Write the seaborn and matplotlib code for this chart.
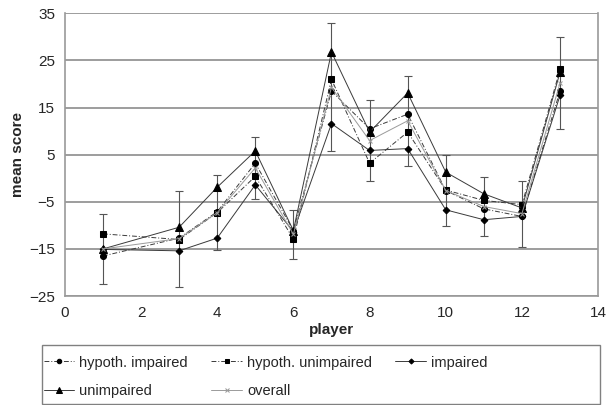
import matplotlib
matplotlib.use('Agg')
import matplotlib.pyplot as plt
from matplotlib.patches import Rectangle
import seaborn as sns
import numpy as np

sns.set_style('white')
plt.rcParams['font.family'] = ['Liberation Sans', 'DejaVu Sans']

# Data
players = [1, 3, 4, 5, 6, 7, 8, 9, 10, 11, 12, 13]
hypoth_impaired = [-16.5, -12.7, -7.1, 3.2, -11.1, 18.5, 10.5, 13.6, -2.6, -6.5, -8.1, 18.5]
hypoth_unimpaired = [-11.8, -13.0, -7.3, 0.4, -12.9, 21.0, 3.2, 9.8, -2.5, -4.7, -5.6, 23.1]
impaired = [-15.1, -15.4, -12.7, -1.4, -11.3, 11.6, 5.9, 6.3, -6.7, -8.8, -8.1, 17.6]
unimpaired = [-15.0, -10.4, -1.9, 5.8, -11.1, 26.8, 9.8, 18.1, 1.3, -3.3, -6.3, 22.5]
overall = [-15.0, -12.8, -7.3, 2.2, -11.9, 19.3, 8.0, 12.2, -2.6, -6.0, -7.5, 20.2]
overall_err = [7.4, 10.2, 7.9, 6.6, 5.2, 13.6, 8.6, 9.5, 7.5, 6.2, 7.0, 9.7]

LINE = '#3a3a3a'
GRID = '#8c8c8c'

fig = plt.figure(figsize=(6.06, 4.05), dpi=100)
ax = fig.add_axes([0.107, 0.269, 0.880, 0.698])

# error bars for the overall mean
ax.errorbar(players, overall, yerr=overall_err, fmt='none', ecolor='#555555',
            elinewidth=0.8, capsize=3, capthick=0.8, zorder=2)

series = [
    ('hypoth. impaired', hypoth_impaired, 'o', 4.3, (0, (5, 2, 1, 2))),
    ('hypoth. unimpaired', hypoth_unimpaired, 's', 4.6, (0, (5, 2, 1, 2))),
    ('impaired', impaired, 'D', 3.4, '-'),
    ('unimpaired', unimpaired, '^', 5.2, '-'),
]
for name, vals, mk, ms, ls in series:
    sns.lineplot(x=players, y=vals, ax=ax, marker=mk, markersize=ms, color=LINE,
                 markerfacecolor='black', markeredgecolor='black',
                 linewidth=0.7, linestyle=ls, label=name, zorder=3)
sns.lineplot(x=players, y=overall, ax=ax, marker='x', markersize=3.5, color='#9a9a9a',
             markeredgecolor='#9a9a9a', linewidth=0.7, label='overall', zorder=3)

ax.set_xlim(0, 14)
ax.set_ylim(-25, 35)
ax.set_xticks(np.arange(0, 15, 2))
ax.set_yticks(np.arange(-25, 36, 10))
ax.yaxis.grid(True, color=GRID, linewidth=1.2)
ax.xaxis.grid(False)
for side in ['left', 'bottom', 'right', 'top']:
    ax.spines[side].set_color('#999999')
    ax.spines[side].set_linewidth(1.2)
ax.spines['top'].set_visible(False)
ax.tick_params(axis='both', direction='out', length=4, width=1, color='#999999',
               labelsize=11, pad=3)
ax.set_xlabel('player', fontsize=11, fontweight='bold', labelpad=2)
ax.set_ylabel('mean score', fontsize=11, fontweight='bold', labelpad=3)

h, l = ax.get_legend_handles_labels()
ax.get_legend().remove()
order = [0, 3, 1, 4, 2]
fig.legend([h[i] for i in order], [l[i] for i in order], ncol=3,
           loc='upper left', bbox_to_anchor=(0.072, 0.122), frameon=False,
           fontsize=10.5, handlelength=2.1, handletextpad=0.35, columnspacing=1.6,
           borderpad=0, labelspacing=1.0, borderaxespad=0, markerscale=0.75)

# legend frame
fig.patches.append(Rectangle((0.069, 0.0025), 0.921, 0.146, transform=fig.transFigure,
                             fill=False, edgecolor='#808080', linewidth=1.0))

fig.savefig('out.png', dpi=100)
